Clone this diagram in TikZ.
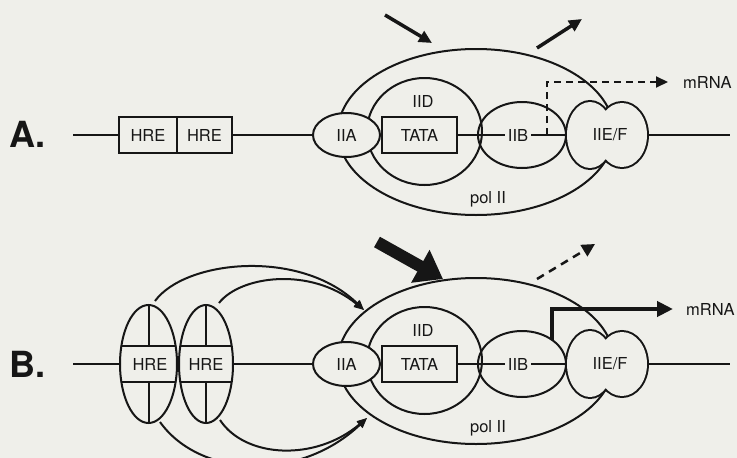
\documentclass[tikz,border=0pt]{standalone}
\usepackage{fontspec}
\setmainfont{TeX Gyre Heros}
\usetikzlibrary{shapes.geometric,arrows.meta,calc}
\definecolor{bg}{RGB}{239,239,234}
\definecolor{ink}{RGB}{22,22,22}
\newcommand\lblfont{\fontsize{16.5pt}{19pt}\selectfont}
\newcommand\bigfont{\fontsize{36pt}{40pt}\selectfont\bfseries}
\tikzset{
  ln/.style={draw=ink, line width=2pt},
  ell/.style={ellipse, draw=ink, line width=2pt, inner sep=0pt, outer sep=0pt, font=\lblfont, text=ink},
  lab/.style={font=\lblfont, text=ink, inner sep=1pt},
  biglab/.style={font=\bigfont, text=ink, inner sep=0pt},
  box/.style={rectangle, draw=ink, line width=2pt, fill=bg, inner sep=0pt, outer sep=0pt, minimum height=36pt, font=\lblfont, text=ink},
  smalltip/.style={-{Triangle[length=10pt,width=8pt]}},
}
\newcommand\txcomplex[2]{%
  \node[ell, fill=bg, minimum width=276pt, minimum height=166pt] (#1pol) at (476,#2-3) {};
  \node[lab] (#1polt) at (488,#2+64) {pol II};
  \coordinate (#1dl) at (73,#2);
  \coordinate (#1dr) at (730,#2);
  \draw[ln] (#1dl) -- (#1dr);
  \node[ell, minimum width=115pt, minimum height=107pt] (#1iid) at (424.5,#2-3.5) {};
  \node[lab] (#1iidt) at (423,#2-34) {IID};
  \node[box, minimum width=75pt] (#1tata) at (419.5,#2) {TATA};
  \node[ell, minimum width=88pt, minimum height=66pt] (#1iib) at (522,#2) {};
  \node[lab, fill=bg, inner sep=3pt] (#1iibt) at (518,#2) {IIB};
  \node[ell, fill=bg, minimum width=67pt, minimum height=44pt] (#1iia) at (346.5,#2) {IIA};
  \draw[draw=ink, line width=4pt] (590,#2) ellipse [x radius=23pt, y radius=33pt]
        (622,#2) ellipse [x radius=25pt, y radius=32pt];
  \fill[bg] (590,#2) ellipse [x radius=23pt, y radius=33pt]
        (622,#2) ellipse [x radius=25pt, y radius=32pt];
  \node[lab] (#1ef) at (610,#2) {IIE/F};
}
\begin{document}
\begin{tikzpicture}[x=1pt,y=-1pt]
\fill[bg] (0,0) rectangle (737,458);
\useasboundingbox (0,0) rectangle (737,458);

% ---------------- A ----------------
\node[biglab, anchor=base west] (labA) at (9,147) {A.};
\txcomplex{A}{135}
\node[box, minimum width=58pt] (hA1) at (148,135) {HRE};
\node[box, minimum width=55pt] (hA2) at (204.5,135) {HRE};

\coordinate (a1s) at (385,15);
\coordinate (a1e) at (432,43);
\draw[draw=ink, line width=3.5pt, -{Triangle[length=13pt,width=12pt]}] (a1s) -- (a1e);
\coordinate (a2s) at (537,48);
\coordinate (a2e) at (582,19);
\draw[draw=ink, line width=3.5pt, -{Triangle[length=13pt,width=12pt]}] (a2s) -- (a2e);

\coordinate (mAs) at (547,135);
\coordinate (mAe) at (668,82);
\draw[draw=ink, line width=2pt, dash pattern=on 7pt off 5pt, -{Triangle[length=12pt,width=11pt]}] (mAs) |- (mAe);
\node[lab, anchor=west, inner sep=0pt] (mAt) at (683,82) {mRNA};

% ---------------- B ----------------
\node[biglab, anchor=base west] (labB) at (9,377) {B.};
\txcomplex{B}{364}

\node[ell, fill=bg, minimum width=57pt, minimum height=118pt] (hB1) at (148.5,364) {};
\node[ell, fill=bg, minimum width=54pt, minimum height=118pt] (hB2) at (206,364) {};
\begin{scope}
  \clip (148.5,364) ellipse [x radius=28.5pt, y radius=59pt];
  \draw[ln] (110,346) -- (190,346) (110,382) -- (190,382)
            (148.5,290) -- (148.5,346) (148.5,382) -- (148.5,440);
\end{scope}
\begin{scope}
  \clip (206,364) ellipse [x radius=27pt, y radius=59pt];
  \draw[ln] (170,346) -- (240,346) (170,382) -- (240,382)
            (206,290) -- (206,346) (206,382) -- (206,440);
\end{scope}
\node[lab] (hB1t) at (150,364) {HRE};
\node[lab] (hB2t) at (206,364) {HRE};

\coordinate (tOs) at (155,301);
\coordinate (tIs) at (219,303);
\coordinate (tTip) at (364,310);
\coordinate (bOs) at (160,422);
\coordinate (bIs) at (220,420);
\coordinate (bTip) at (367,418);
\draw[ln, smalltip] (tOs) .. controls (185,260) and (300,248) .. (tTip);
\draw[ln, smalltip] (tIs) .. controls (240,276) and (310,266) .. (tTip);
\draw[ln, smalltip] (bOs) .. controls (200,478) and (300,482) .. (bTip);
\draw[ln, smalltip] (bIs) .. controls (245,458) and (315,462) .. (bTip);

\coordinate (b1s) at (377,242);
\coordinate (b1e) at (443,279);
\draw[draw=ink, line width=12pt, -{Triangle[length=26pt,width=36pt]}] (b1s) -- (b1e);
\coordinate (b2s) at (537,279);
\coordinate (b2e) at (595,244);
\draw[draw=ink, line width=2.5pt, dash pattern=on 8pt off 6pt, -{Triangle[length=13pt,width=13pt]}] (b2s) -- (b2e);

\coordinate (mBe) at (673,309);
\draw[draw=ink, line width=4pt, -{Triangle[length=16pt,width=15pt]}] (Biib.39) |- (mBe);
\node[lab, anchor=west, inner sep=0pt] (mBt) at (686,309) {mRNA};
\end{tikzpicture}
\end{document}
